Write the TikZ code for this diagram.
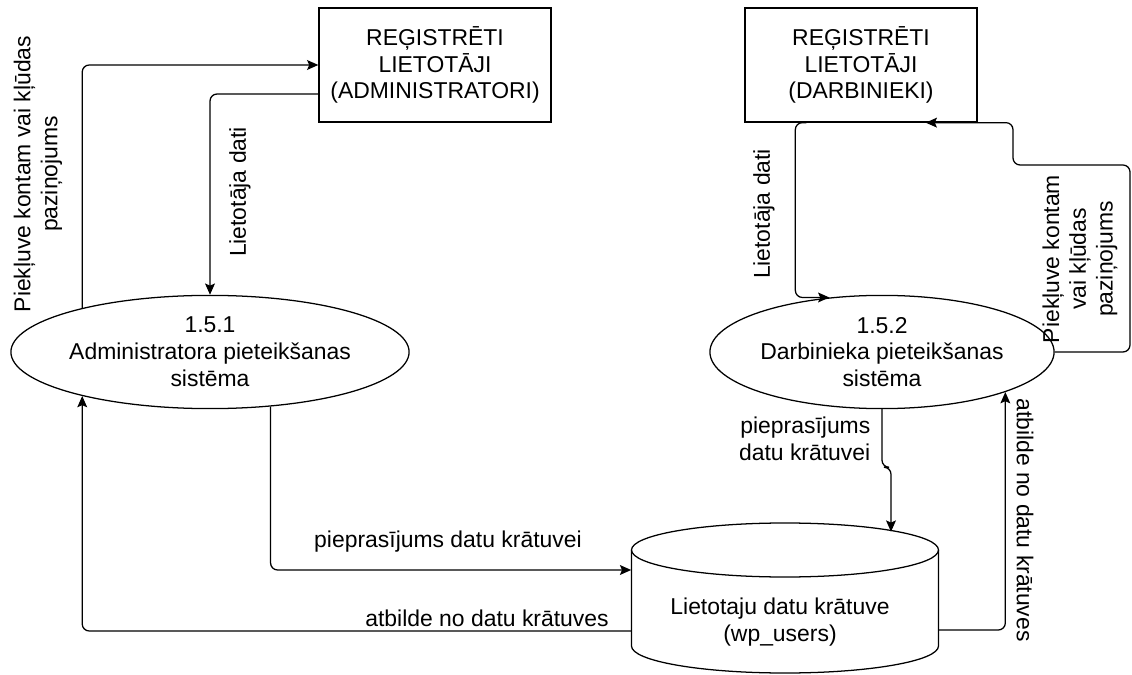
\documentclass[tikz,border=0pt]{standalone}
\usepackage{fontspec}
\setmainfont{Liberation Sans}
\usetikzlibrary{shapes.geometric,arrows.meta,calc}
\tikzset{
 every node/.style={font=\fontsize{16.3}{19.1}\selectfont},
 entity/.style={draw,line width=0.9pt,minimum width=5.8cm,minimum height=2.85cm,align=center},
 proc/.style={draw,ellipse,line width=0.9pt,minimum width=8.6cm,minimum height=2.83cm,inner sep=0pt,align=center},
 storebox/.style={minimum width=7.675cm,minimum height=3.75cm,align=center,inner sep=0pt},
 flow/.style={line width=0.9pt,rounded corners=5pt,-{Stealth[length=8pt,width=7pt,inset=1.5pt]}},
 lbl/.style={align=center,inner sep=1pt}
}
\begin{document}
\begin{tikzpicture}[x=0.025cm,y=-0.025cm]
 \useasboundingbox (0,0) rectangle (1132,675);
 \node[entity] (admbox) at (435,65) {REĢISTRĒTI\\LIETOTĀJI\\(ADMINISTRATORI)};
 \node[entity] (darbbox) at (861,65) {REĢISTRĒTI\\LIETOTĀJI\\(DARBINIEKI)};
 \node[proc] (admproc) at (210,352) {1.5.1\\Administratora pieteikšanas\\sistēma};
 \node[proc,minimum width=8.55cm] (darbproc) at (882,352) {1.5.2\\Darbinieka pieteikšanas\\sistēma};
 \node[storebox] (store) at (785,598) {};
 \node[align=center,inner sep=0pt] (storetxt) at ($(store.center)+(-5,24)$) {Lietotaju datu krātuve\\(wp\_users)};
 % cylinder of the data store
 \draw[line width=0.9pt] (785,550) ellipse [x radius=153.5,y radius=27];
 \draw[line width=0.9pt] (631.5,550) -- (631.5,646) arc[start angle=180,end angle=0,x radius=153.5,y radius=27] -- (938.5,550);
 \coordinate (dl) at ($(darbbox.south west)+(51,0)$);
 \coordinate (lr) at (1130,165);
 \draw[flow] (admproc.161) |- (admbox.west);
 \draw[flow] ($(admbox.west)+(0,29)$) -| (admproc.north);
 \draw[flow] (admproc.-42) |- ($(store.west)+(0,-28)$);
 \draw[flow] ($(store.west)+(0,33)$) -| (admproc.199);
 \draw[flow] (darbproc.south) -- ++(0,58) -| ($(store.north)+(106,9)$);
 \draw[flow] ($(store.east)+(0,32)$) -| (darbproc.-18);
 \draw[flow] ($(darbbox.south west)+(62,0)$) -| (dl |- darbproc.134) -- (darbproc.134);
 \draw[flow] (darbproc.east) -| (lr) -- ++(-117,0) |- ($(darbbox.south east)+(-52,0)$);
 \node[lbl,rotate=90] (l1) at (38,174) {Piekļuve kontam vai kļūdas\\paziņojums};
 \node[lbl,rotate=90] (l2) at (240,192) {Lietotāja dati};
 \node[lbl] (l3) at (448,542) {pieprasījums datu krātuvei};
 \node[lbl] (l4) at (487,618) {atbilde no datu krātuves};
 \node[lbl,align=right,anchor=east] (l5) at (872,439) {pieprasījums\\datu krātuvei};
 \node[lbl,rotate=-90] (l6) at (1025,520) {atbilde no datu krātuves};
 \node[lbl,rotate=90] (l7) at (764,214) {Lietotāja dati};
 \node[lbl,rotate=90] (l8) at (1080,259) {Piekļuve kontam\\vai kļūdas\\paziņojums};
\end{tikzpicture}
\end{document}
